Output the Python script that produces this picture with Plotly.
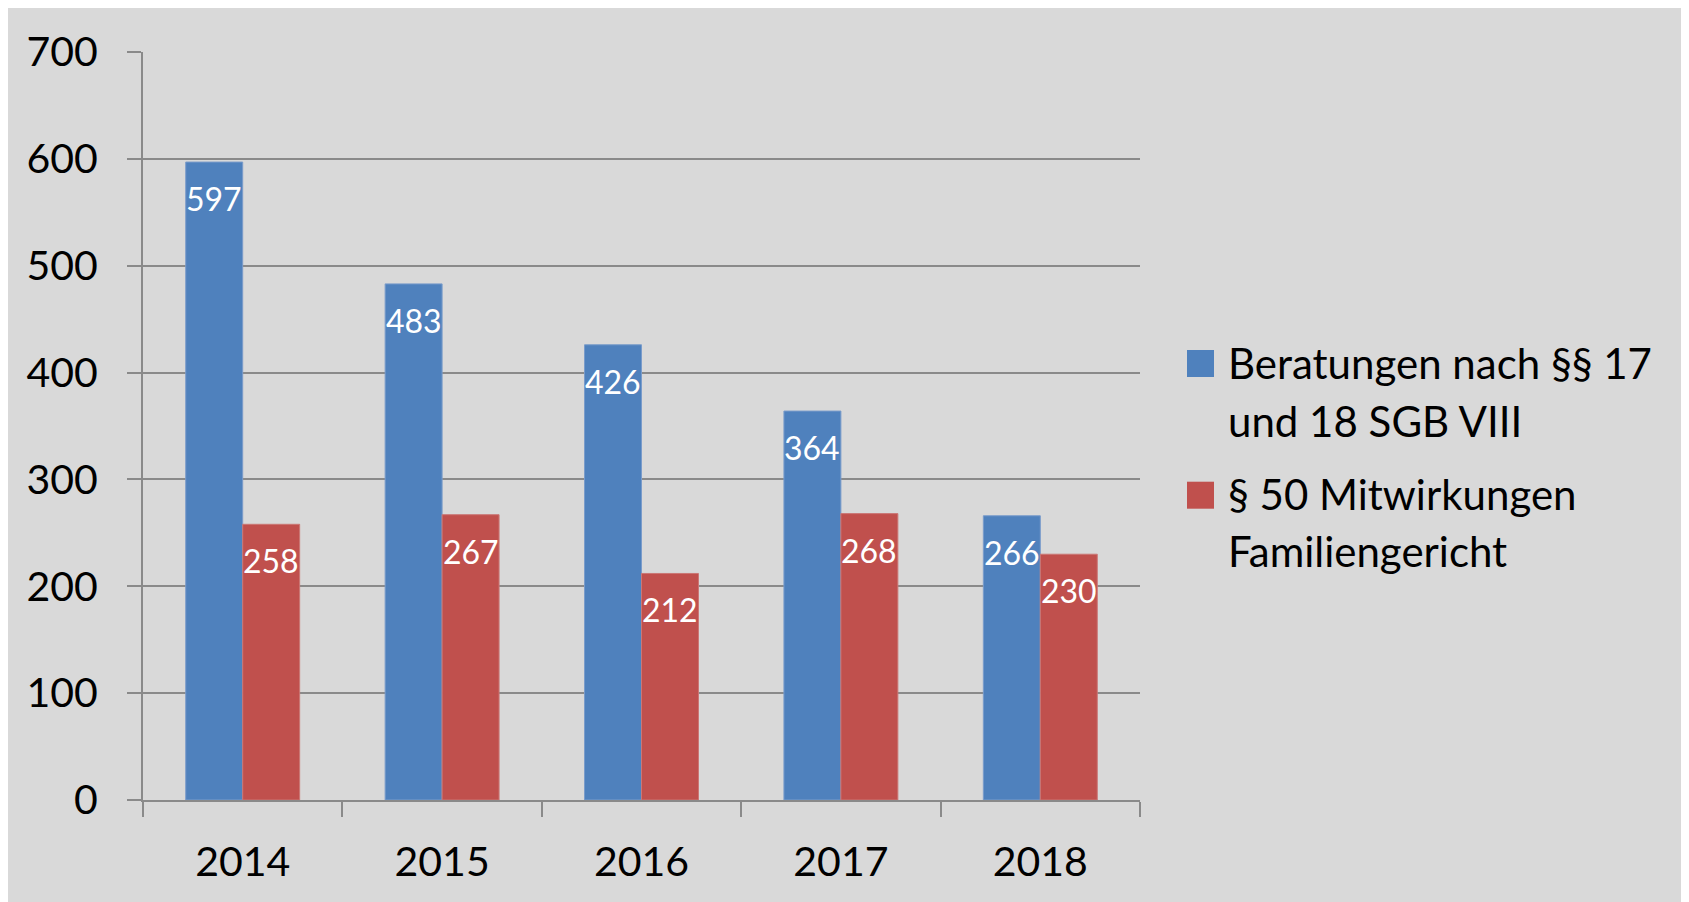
import plotly.graph_objects as go

years = ["2014", "2015", "2016", "2017", "2018"]
beratungen = [597, 483, 426, 364, 266]
mitwirkungen = [258, 267, 212, 268, 230]
series_names = ["Beratungen nach §§ 17 und 18 SGB VIII", "§ 50 Mitwirkungen Familiengericht"]
legend_lines = [["Beratungen nach §§ 17", "und 18 SGB VIII"], ["§ 50 Mitwirkungen", "Familiengericht"]]
colors = ["#4F81BD", "#C0504D"]
edge_colors = ["#7A9CCB", "#CB7775"]
y_ticks = [0, 100, 200, 300, 400, 500, 600, 700]

FONT = "Lato"
GRID = "#8A8A8A"
BG = "#D9D9D9"

W, H = 1689, 902
L, R, T, B = 135, 557, 44, 110
plot_w = W - L - R
plot_h = H - T - B

fig = go.Figure()
all_values = [beratungen, mitwirkungen]
for name, vals, col, ecol in zip(series_names, all_values, colors, edge_colors):
    fig.add_trace(go.Bar(
        x=years, y=vals, name=name,
        marker=dict(color=col, line=dict(color=ecol, width=1)),
        showlegend=False,
    ))

# data labels (inside end, white); x given as category index on the category axis
bargap = 1.5 / 3.5
bar_w_px = plot_w / len(years) * (1 - bargap) / 2
annotations = []
for i, vals in enumerate(all_values):
    shift = (i - 0.5) * bar_w_px
    for idx, v in enumerate(vals):
        annotations.append(dict(
            x=idx, y=v, xref="x", yref="y", text=str(v), showarrow=False,
            xanchor="center", yanchor="top", xshift=shift, yshift=-15,
            font=dict(family=FONT, size=32, color="white"),
        ))

# legend
def px_x(x):
    return (x - L) / plot_w

def px_y(y):
    return (H - B - y) / plot_h

shapes = []
sq_tops = [342, 473.7]
line_centers = [[354.7, 413], [486, 543]]
for k in range(2):
    shapes.append(dict(
        type="rect", xref="paper", yref="paper",
        x0=px_x(1179), x1=px_x(1206), y0=px_y(sq_tops[k] + 27), y1=px_y(sq_tops[k]),
        fillcolor=colors[k], line=dict(width=0),
    ))
    for line, cy in zip(legend_lines[k], line_centers[k]):
        annotations.append(dict(
            x=px_x(1218), y=px_y(cy), xref="paper", yref="paper", text=line,
            showarrow=False, xanchor="left", yanchor="middle",
            font=dict(family=FONT, size=42, color="black"),
        ))

fig.update_layout(
    width=W, height=H,
    margin=dict(l=L, r=R, t=T, b=B),
    paper_bgcolor=BG, plot_bgcolor=BG,
    barmode="group", bargap=bargap, bargroupgap=0,
    font=dict(family=FONT, color="black"),
    annotations=annotations, shapes=shapes,
    showlegend=False,
)
fig.update_yaxes(
    range=[0, 700], tickvals=y_ticks,
    showgrid=True, gridcolor=GRID, gridwidth=2,
    showline=True, linecolor=GRID, linewidth=2,
    ticks="outside", ticklen=14, tickwidth=2, tickcolor=GRID,
    ticklabelstandoff=21,
    tickfont=dict(family=FONT, size=41, color="black"),
    zeroline=False,
)
fig.update_xaxes(
    type="category", range=[-0.5, len(years) - 0.5],
    showgrid=False, showline=True, linecolor=GRID, linewidth=2,
    ticks="outside", ticklen=15, tickwidth=2, tickcolor=GRID,
    tickson="boundaries", ticklabelstandoff=25, tickangle=0,
    tickfont=dict(family=FONT, size=41, color="black"),
)

fig.write_html("out.html")
